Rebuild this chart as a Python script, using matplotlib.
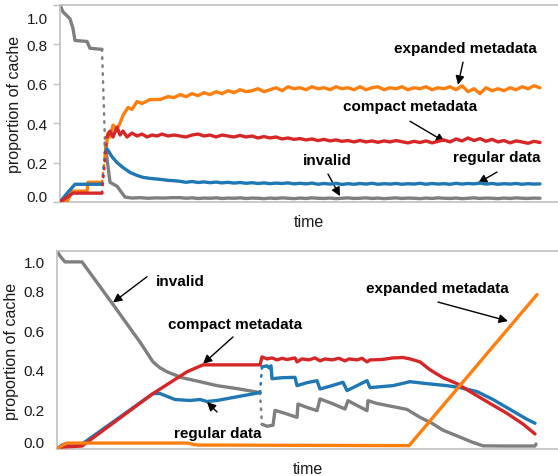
import numpy as np
import matplotlib
matplotlib.use("Agg")
import matplotlib.pyplot as plt
from matplotlib.transforms import ScaledTranslation

plt.rcParams["font.family"] = ["Liberation Sans", "DejaVu Sans"]

# colours
C_INVALID = "#7f7f7f"
C_REGULAR = "#1f77b4"
C_COMPACT = "#d62728"
C_EXPANDED = "#ff7f0e"

yticks = [0.0, 0.2, 0.4, 0.6, 0.8, 1.0]
ytick_labels = ["0.0", "0.2", "0.4", "0.6", "0.8", "1.0"]

# ---------------- top chart ----------------
# shared steady-state time grid (t = 120 ... 480)
t_top_steady = np.arange(120, 481, 6)

t_top_invalid_early = [0, 3, 10, 13, 15, 27, 30, 42, 45, 50, 57, 65, 72, 80, 88, 96, 104, 112]
top_invalid_early = [1.0, .965, .93, .88, .82, .815, .78, .775, .30, .10, .08, .025, .02, .022, .019, .021, .02, .022]
top_invalid_steady = [
    .022, .019, .021, .018, .020, .019, .021, .018, .020, .019,
    .021, .018, .020, .019, .017, .020, .018, .021, .019, .017,
    .020, .018, .021, .019, .018, .020, .017, .019, .021, .018,
    .019, .021, .018, .020, .017, .019, .021, .018, .020, .019,
    .017, .020, .018, .021, .019, .018, .020, .017, .019, .021,
    .018, .020, .019, .017, .020, .018, .021, .019, .018, .020,
    .019]

t_top_regular_early = [0, 8, 15, 42, 45, 47, 52, 57, 63, 70, 77, 83, 90, 100, 108, 114]
top_regular_early = [0, .05, .09, .09, .25, .27, .23, .20, .175, .15, .135, .125, .12, .115, .11, .108]
top_regular_steady = [
    .105, .100, .104, .099, .102, .098, .101, .097, .100, .096,
    .099, .095, .098, .094, .097, .093, .096, .094, .097, .092,
    .095, .092, .096, .090, .094, .091, .095, .089, .093, .090,
    .094, .091, .095, .090, .093, .091, .094, .090, .093, .091,
    .095, .090, .094, .091, .093, .090, .095, .091, .094, .092,
    .096, .091, .094, .090, .093, .091, .094, .090, .093, .091,
    .092]

t_top_compact_early = [0, 13, 42, 47, 50, 53, 57, 60, 63, 67, 72, 77, 82, 87, 92, 97, 102, 108, 114]
top_compact_early = [0, .045, .045, .33, .36, .33, .38, .34, .36, .33, .35, .335, .345, .33, .34, .335, .345, .335, .34]
top_compact_steady = [
    .335, .330, .340, .345, .335, .340, .330, .340, .335, .330,
    .338, .330, .335, .325, .332, .325, .330, .320, .325, .318,
    .322, .315, .320, .312, .318, .310, .315, .308, .312, .305,
    .312, .305, .310, .303, .310, .305, .312, .306, .300, .308,
    .302, .310, .300, .308, .315, .305, .320, .310, .325, .312,
    .322, .308, .318, .305, .312, .300, .310, .305, .298, .308,
    .302]

t_top_expanded_early = [0, 7, 12, 27, 28, 42, 45, 48, 50, 53, 57, 60, 63, 68, 72, 77, 82, 90, 100, 108, 114]
top_expanded_early = [0, 0, .055, .055, .10, .10, .23, .35, .33, .39, .37, .40, .44, .48, .47, .51, .50, .52, .52, .535, .53]
top_expanded_steady = [
    .545, .535, .550, .540, .555, .545, .560, .550, .565, .555,
    .570, .560, .565, .575, .560, .570, .580, .565, .585, .575,
    .580, .570, .585, .575, .580, .570, .585, .575, .580, .570,
    .585, .570, .580, .585, .570, .580, .575, .585, .570, .580,
    .575, .585, .570, .580, .575, .585, .570, .590, .560, .575,
    .550, .580, .565, .575, .565, .580, .570, .585, .575, .590,
    .580]

# ---------------- bottom chart ----------------
t_bot_invalid = [0, 3, 8, 25, 56, 83, 96, 103, 110, 125, 143, 160, 180, 203, 205, 210, 216, 218, 228, 240,
                 241, 250, 260, 263, 275, 288, 291, 300, 310, 311, 320, 335, 350, 363, 375, 386, 403, 415,
                 426, 450, 478, 479]
bot_invalid = [1.0, .975, .945, .945, .73, .54, .44, .41, .39, .36, .34, .32, .305, .285, .125, .115, .12, .195,
               .18, .16, .227, .21, .194, .253, .23, .202, .244, .22, .194, .244, .23, .215, .20, .16, .13, .095,
               .06, .035, .016, .015, .015, .025]

t_bot_regular = [0, 5, 8, 25, 96, 103, 118, 133, 143, 150, 160, 203, 205, 210, 212, 214, 215, 225, 238, 240,
                 250, 260, 263, 275, 286, 290, 300, 310, 313, 336, 353, 370, 390, 403, 420, 436, 453, 470, 478]
bot_regular = [0, .02, .025, .025, .28, .28, .25, .245, .25, .24, .245, .285, .415, .42, .41, .42, .355, .36,
               .362, .32, .335, .345, .303, .32, .337, .295, .32, .345, .31, .32, .34, .33, .32, .31, .29, .25,
               .20, .15, .13]

t_bot_compact = [0, 5, 25, 96, 130, 146, 203, 205, 210, 215, 220, 225, 230, 238, 240, 245, 252, 258, 263, 268,
                 275, 282, 288, 292, 300, 305, 310, 313, 325, 336, 346, 353, 363, 373, 386, 400, 413, 433, 450,
                 466, 478]
bot_compact = [0, .01, .015, .28, .39, .425, .425, .465, .455, .46, .45, .458, .452, .46, .44, .455, .45, .46,
               .445, .455, .45, .458, .445, .455, .45, .458, .44, .45, .452, .46, .462, .455, .44, .40, .36, .33,
               .29, .23, .18, .126, .076]

t_bot_expanded = [0, 6, 10, 25, 130, 140, 352, 480]
bot_expanded = [0, .02, .03, .03, .03, .02, .017, .78]


def draw_series(ax, t, v, color, px_per_unit, z):
    # steep jumps were drawn with sparse markers -> dotted
    t = np.asarray(t, float)
    v = np.asarray(v, float)
    dx = np.diff(t)
    dy = np.abs(np.diff(v)) * px_per_unit
    steep = (dy > 18) & (dy / np.maximum(dx, 1e-9) > 8)
    solid = dict(color=color, lw=2.4, solid_joinstyle="round", solid_capstyle="round", zorder=z)
    start = 0
    for i in range(len(dx)):
        if steep[i]:
            if i > start:
                ax.plot(t[start:i + 1], v[start:i + 1], **solid)
            ax.plot(t[i:i + 2], v[i:i + 2], color=color, lw=1.8, linestyle=(0, (0.6, 2.6)),
                    dash_capstyle="round", zorder=z)
            start = i + 1
    if start < len(t) - 1:
        ax.plot(t[start:], v[start:], **solid)


def style_axes(ax, xmax, shift0, shift1, ticklen):
    ax.set_xlim(0, xmax)
    ax.set_ylim(0, 1)
    ax.set_xticks([])
    ax.set_yticks(yticks)
    ax.set_yticklabels(ytick_labels)
    ax.tick_params(axis="y", length=ticklen, width=1, color="#c0c0c0", labelsize=11,
                   labelcolor="#1a1a1a", pad=4 if ticklen else 9)
    for side in ["top", "bottom", "left"]:
        ax.spines[side].set_color("#c0c0c0")
        ax.spines[side].set_linewidth(1.2)
    ax.spines["right"].set_visible(False)
    ax.set_xlabel("time", fontsize=11.5, color="#1a1a1a", labelpad=9)
    ax.set_ylabel("proportion of cache", fontsize=11.5, color="#1a1a1a", labelpad=3)
    labels = ax.get_yticklabels()
    labels[0].set_transform(labels[0].get_transform() + ScaledTranslation(0, shift0 / 100, fig.dpi_scale_trans))
    labels[-1].set_transform(labels[-1].get_transform() + ScaledTranslation(0, shift1 / 100, fig.dpi_scale_trans))


def label(ax, text, pos, tail, head):
    ax.text(pos[0], pos[1], text, ha="center", va="center", fontsize=11, fontweight="bold", color="black")
    ax.annotate("", xy=head, xytext=tail,
                arrowprops=dict(arrowstyle="-|>", color="black", lw=1, mutation_scale=13,
                                shrinkA=0, shrinkB=0))


fig = plt.figure(figsize=(5.58, 4.77), dpi=100)
ax_top = fig.add_axes([60 / 558, 1 - 203 / 477, 1 - 60 / 558, 197 / 477])
ax_bot = fig.add_axes([57 / 558, 1 - 450 / 477, 1 - 57 / 558, 198 / 477])

# top chart
draw_series(ax_top, t_top_invalid_early + list(t_top_steady), top_invalid_early + top_invalid_steady, C_INVALID, 197, 2)
draw_series(ax_top, t_top_expanded_early + list(t_top_steady), top_expanded_early + top_expanded_steady, C_EXPANDED, 197, 3)
draw_series(ax_top, t_top_regular_early + list(t_top_steady), top_regular_early + top_regular_steady, C_REGULAR, 197, 4)
draw_series(ax_top, t_top_compact_early + list(t_top_steady), top_compact_early + top_compact_steady, C_COMPACT, 197, 5)
style_axes(ax_top, 498, 6, -12, 5)

label(ax_top, "expanded metadata", (405, 0.78), (403, 0.71), (398, 0.595))
label(ax_top, "compact metadata", (350, 0.487), (350, 0.41), (385, 0.305))
label(ax_top, "invalid", (267, 0.213), (268, 0.142), (280, 0.03))
label(ax_top, "regular data", (437, 0.228), (437, 0.152), (418, 0.096))

# bottom chart
draw_series(ax_bot, t_bot_invalid, bot_invalid, C_INVALID, 198, 2)
draw_series(ax_bot, t_bot_regular, bot_regular, C_REGULAR, 198, 3)
draw_series(ax_bot, t_bot_compact, bot_compact, C_COMPACT, 198, 4)
draw_series(ax_bot, t_bot_expanded, bot_expanded, C_EXPANDED, 198, 5)
style_axes(ax_bot, 501, 7, -11, 0)

label(ax_bot, "invalid", (123, 0.85), (90, 0.87), (56, 0.74))
label(ax_bot, "compact metadata", (178, 0.63), (176, 0.566), (146, 0.43))
label(ax_bot, "regular data", (161, 0.08), (160, 0.187), (150, 0.237))
label(ax_bot, "expanded metadata", (380, 0.813), (381, 0.742), (451, 0.646))

fig.savefig("out.png", dpi=100)
